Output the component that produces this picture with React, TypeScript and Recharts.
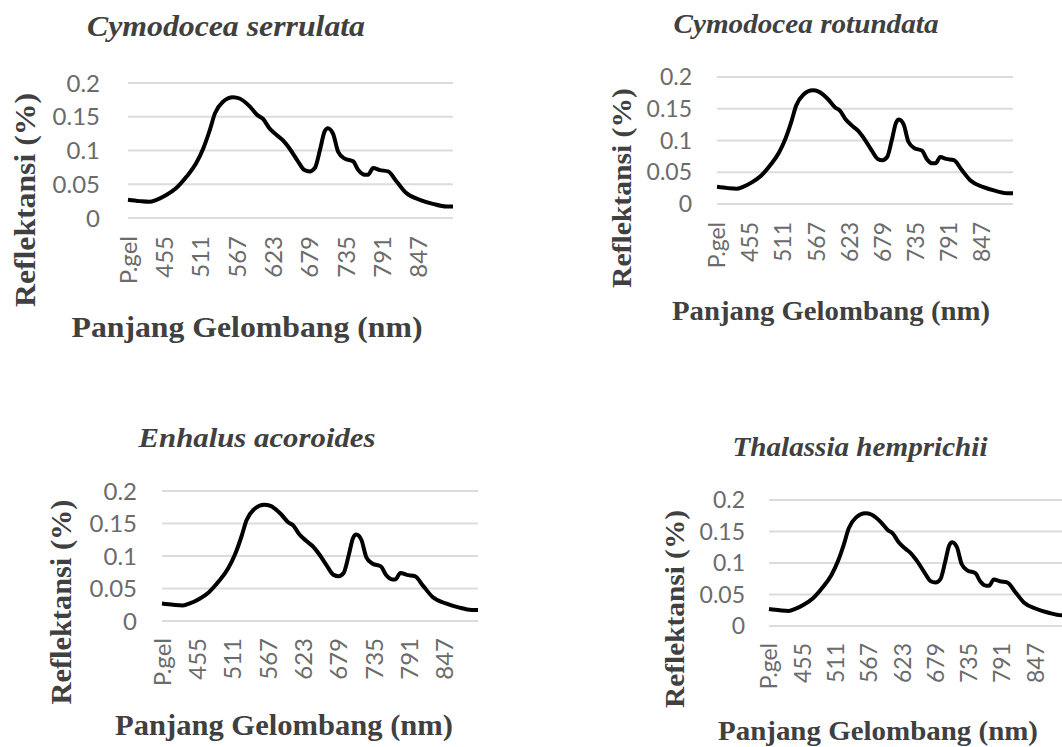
import React from 'react';
import { LineChart, Line, XAxis, YAxis, CartesianGrid } from 'recharts';

// Wavelength (nm); 399 stands for the "P.gel" header category
const wavelengths = [399, 417, 432, 443, 458, 473, 489, 504, 515, 525, 533, 545, 561, 571, 587, 599, 607, 617, 628, 638, 648, 661, 671, 679, 687, 695, 702, 707, 715, 723, 733, 746, 754, 764, 769, 777, 787, 800, 813, 828, 849, 869, 890, 900];
const reflectance = [0.027, 0.025, 0.024, 0.027, 0.034, 0.044, 0.061, 0.081, 0.103, 0.130, 0.155, 0.172, 0.179, 0.177, 0.165, 0.152, 0.147, 0.133, 0.123, 0.115, 0.103, 0.084, 0.071, 0.069, 0.074, 0.101, 0.128, 0.133, 0.125, 0.098, 0.088, 0.084, 0.071, 0.064, 0.064, 0.074, 0.071, 0.069, 0.054, 0.037, 0.027, 0.021, 0.017, 0.017];
const xTicks = [399, 455, 511, 567, 623, 679, 735, 791, 847];
const xTickLabels = ['P.gel', '455', '511', '567', '623', '679', '735', '791', '847'];
const yTicks = [0, 0.05, 0.1, 0.15, 0.2];
const speciesTitles = ['Cymodocea serrulata', 'Cymodocea rotundata', 'Enhalus acoroides', 'Thalassia hemprichii'];
const xAxisTitle = 'Panjang Gelombang (nm)';
const yAxisTitle = 'Reflektansi (%)';

const data = wavelengths.map((wl, i) => ({ wl, r: reflectance[i] }));

type PanelCfg = {
  left: number; top: number; width: number; height: number;
  x0: number; x1: number; yTop: number; yBot: number;
  tickFont: number; yGap: number; xGap: number;
  titleFont: number; titleX: number; titleY: number; titleW: number;
  axFont: number; xtX: number; xtY: number; xtW: number; ytX: number; ytY: number; ytW: number;
};

const panels: PanelCfg[] = [
  { left: 0, top: 0, width: 531, height: 373, x0: 128, x1: 453, yTop: 83, yBot: 218, tickFont: 24, yGap: 28, xGap: 18,
    titleFont: 29, titleX: 226, titleY: 36, titleW: 278, axFont: 30, xtX: 247, xtY: 337, xtW: 351, ytX: 35, ytY: 200, ytW: 214 },
  { left: 531, top: 0, width: 531, height: 373, x0: 717, x1: 1013, yTop: 77, yBot: 204, tickFont: 23, yGap: 25, xGap: 18,
    titleFont: 27, titleX: 806, titleY: 33, titleW: 265, axFont: 28, xtX: 831, xtY: 320, xtW: 318, ytX: 631, ytY: 188, ytW: 200 },
  { left: 0, top: 373, width: 531, height: 374, x0: 162, x1: 478, yTop: 491, yBot: 621, tickFont: 24, yGap: 25, xGap: 17,
    titleFont: 28, titleX: 257, titleY: 447, titleW: 237, axFont: 29, xtX: 284, xtY: 735, xtW: 338, ytX: 71, ytY: 602, ytW: 205 },
  { left: 531, top: 373, width: 545, height: 374, x0: 769, x1: 1067, yTop: 500, yBot: 626, tickFont: 23, yGap: 24, xGap: 17,
    titleFont: 27, titleX: 860, titleY: 456, titleW: 255, axFont: 28, xtX: 878, xtY: 740, xtW: 320, ytX: 684, ytY: 609, ytW: 198 },
];

const TICK_COLOR = '#6b6b6b';
const TEXT_COLOR = '#404040';
const YW = 100;
const XH = 90;

const XTick = (props: any) => {
  const { x, y, payload, fontSize } = props;
  const idx = xTicks.indexOf(payload.value);
  const label = idx >= 0 ? xTickLabels[idx] : String(payload.value);
  return (
    <text
      x={x}
      y={y}
      transform={`rotate(-90 ${x} ${y})`}
      textAnchor="end"
      dy="0.36em"
      fill={TICK_COLOR}
      fontSize={fontSize}
      fontFamily="Lato, 'Open Sans', sans-serif"
    >
      {label}
    </text>
  );
};

const Panel = ({ cfg }: { cfg: PanelCfg }) => {
  const margin = {
    top: cfg.yTop - cfg.top,
    left: cfg.x0 - cfg.left - YW,
    right: cfg.left + cfg.width - cfg.x1,
    bottom: cfg.top + cfg.height - cfg.yBot - XH,
  };
  return (
    <div style={{ position: 'absolute', left: cfg.left, top: cfg.top, width: cfg.width, height: cfg.height }}>
      <LineChart width={cfg.width} height={cfg.height} data={data} margin={margin}>
        <CartesianGrid vertical={false} stroke="#dcdcdc" strokeWidth={2} />
        <XAxis
          dataKey="wl"
          type="number"
          domain={[399, 900]}
          ticks={xTicks}
          interval={0}
          height={XH}
          axisLine={false}
          tickLine={false}
          tickSize={0}
          tickMargin={cfg.xGap}
          tick={<XTick fontSize={cfg.tickFont} />}
        />
        <YAxis
          type="number"
          domain={[0, 0.2]}
          ticks={yTicks}
          interval={0}
          width={YW}
          axisLine={false}
          tickLine={false}
          tickSize={0}
          tickMargin={cfg.yGap}
          tick={{ fill: TICK_COLOR, fontSize: cfg.tickFont, fontFamily: "Lato, 'Open Sans', sans-serif" }}
        />
        <Line
          type="monotone"
          dataKey="r"
          stroke="#000"
          strokeWidth={4}
          dot={false}
          isAnimationActive={false}
        />
      </LineChart>
    </div>
  );
};

export default function App() {
  return (
    <div style={{ position: 'absolute', left: 0, top: 0, width: 1062, height: 747, background: '#fff', overflow: 'hidden' }}>
      {panels.map((p, i) => (
        <Panel key={i} cfg={p} />
      ))}
      <svg width={1062} height={747} style={{ position: 'absolute', left: 0, top: 0, pointerEvents: 'none' }}>
        {panels.map((p, i) => (
          <g key={i} fontFamily="'Liberation Serif', 'Times New Roman', serif" fill={TEXT_COLOR}>
            <text x={p.titleX} y={p.titleY} textAnchor="middle" fontSize={p.titleFont} fontStyle="italic" fontWeight="bold"
              textLength={p.titleW} lengthAdjust="spacingAndGlyphs">
              {speciesTitles[i]}
            </text>
            <text x={p.xtX} y={p.xtY} textAnchor="middle" fontSize={p.axFont} fontWeight="bold"
              textLength={p.xtW} lengthAdjust="spacingAndGlyphs">
              {xAxisTitle}
            </text>
            <text
              x={p.ytX}
              y={p.ytY}
              transform={`rotate(-90 ${p.ytX} ${p.ytY})`}
              textAnchor="middle"
              fontSize={p.axFont}
              fontWeight="bold"
              textLength={p.ytW}
              lengthAdjust="spacingAndGlyphs"
            >
              {yAxisTitle}
            </text>
          </g>
        ))}
      </svg>
    </div>
  );
}
